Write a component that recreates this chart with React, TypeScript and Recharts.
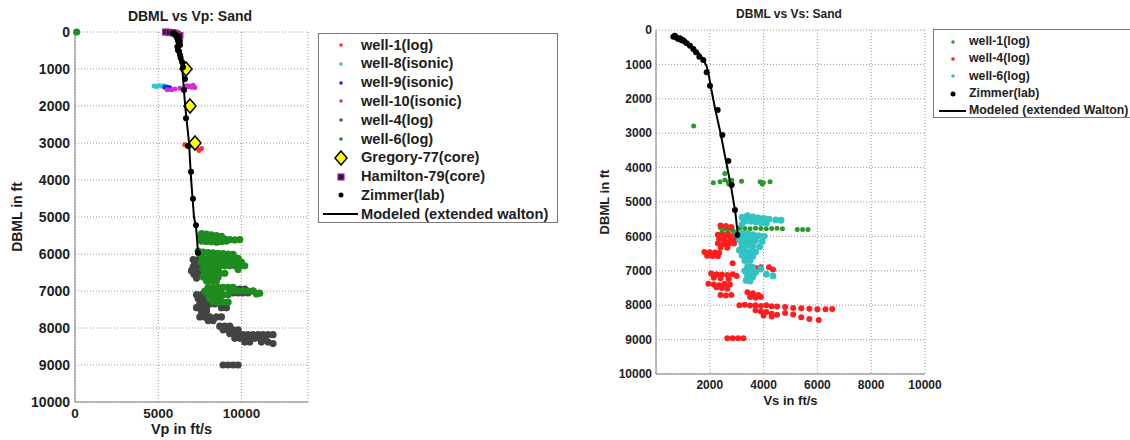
import React from "react";
import { ScatterChart, Scatter, XAxis, YAxis, CartesianGrid, Label } from "recharts";

const FONT = '"Liberation Sans", Arial, Helvetica, sans-serif';

// ---- Vp chart data: [Vp ft/s, depth ft] ----
const vpTicks = [0, 5000, 10000];
const depthTicks = [0, 1000, 2000, 3000, 4000, 5000, 6000, 7000, 8000, 9000, 10000];

const vpWell1: number[][] = [
  [6600, 3050], [6900, 3080], [7300, 3100], [7600, 3150], [7450, 3200],
];
const vpWell8: number[][] = [
  [4750, 1460], [4900, 1470], [5050, 1450], [5200, 1460], [5350, 1450], [5500, 1480],
];
const vpWell9: number[][] = [
  [5400, 1490], [5550, 1500], [5700, 1510],
];
const vpWell10: number[][] = [
  [5550, 1560], [5800, 1560], [6000, 1540], [6300, 1520], [6600, 1500], [6800, 1480],
  [7000, 1490], [7200, 1500], [6700, 1450], [6900, 1460], [7100, 1440],
];
const vpWell4: number[][] = [
  [7100, 6150], [7400, 6150], [7200, 6250], [7500, 6250], [7100, 6350], [7400, 6350],
  [7000, 6450], [7300, 6450], [7150, 6550], [7450, 6550], [7300, 6650],
  [9300, 6950], [9600, 6950], [9900, 6950], [10200, 6950], [9500, 7050], [9800, 7050],
  [10100, 7050], [10400, 7050], [10700, 7000],
  [7300, 7100], [7600, 7100], [7400, 7200], [7700, 7200], [8000, 7200],
  [7500, 7350], [7800, 7350], [8100, 7350], [8400, 7350],
  [7300, 7450], [7600, 7450], [7900, 7450], [8800, 7450], [9100, 7450],
  [7600, 7550], [7900, 7550],
  [7500, 7700], [7800, 7700], [8100, 7700], [8500, 7700], [8800, 7700], [8000, 7800], [8300, 7800],
  [8700, 7950], [9000, 7950], [9300, 7950], [8900, 8050], [9200, 8050], [9500, 8050], [9800, 8050],
  [9300, 8150], [9600, 8150],
  [9800, 8180], [10100, 8180], [10400, 8180], [10700, 8180], [11000, 8180], [11300, 8180],
  [11600, 8180], [11900, 8180],
  [9600, 8280], [9900, 8280], [10200, 8280], [10500, 8280], [10800, 8280], [11100, 8280], [11400, 8280],
  [10200, 8380], [10500, 8380], [11200, 8380], [11600, 8380], [11900, 8420],
  [8900, 9000], [9200, 9000], [9500, 9000], [9800, 9000],
];
const vpWell6: number[][] = [
  [100, 0],
  [7600, 5450], [7900, 5460], [8200, 5480], [8500, 5500], [8800, 5520],
  [7500, 5550], [7800, 5560], [8100, 5570], [8400, 5580], [8700, 5590], [9000, 5600],
  [9300, 5610], [9600, 5620], [9900, 5610],
  [7600, 5650], [7900, 5660], [8200, 5670], [8500, 5680], [8800, 5660], [9100, 5650],
  [7400, 5920], [7700, 5950], [8000, 5960], [8300, 5970], [8600, 5980], [8900, 5990],
  [9200, 6000], [9500, 6010], [7600, 6050], [8100, 6040],
  [7700, 6120], [8000, 6120], [8300, 6120], [8600, 6120], [8900, 6120], [9200, 6120], [9500, 6120], [9800, 6120],
  [7600, 6220], [7900, 6220], [8200, 6220], [8500, 6220], [8800, 6220], [9100, 6220], [9400, 6220],
  [9700, 6220], [10000, 6220],
  [7800, 6320], [8100, 6320], [8400, 6320], [8700, 6320], [9000, 6320], [9300, 6320], [9600, 6320],
  [9900, 6320], [10200, 6320],
  [7700, 6420], [8000, 6420], [8300, 6420], [8600, 6420], [9800, 6420],
  [7800, 6520], [8100, 6520], [8400, 6520], [8700, 6520], [9000, 6520],
  [7700, 6620], [8000, 6620], [8300, 6620], [8600, 6620],
  [7900, 6720], [8200, 6720], [8500, 6720],
  [8000, 6900], [8300, 6900], [8600, 6900], [8900, 6900], [9200, 6900], [9500, 6900],
  [7800, 7000], [8100, 7000], [8400, 7000], [8700, 7000], [9500, 7000], [9800, 7000],
  [10100, 7000], [10400, 7000], [10700, 7000],
  [8000, 7100], [8300, 7100], [8600, 7100], [8900, 7100], [9200, 7100], [10900, 7080], [11100, 7060],
  [8100, 7200], [8400, 7200], [8700, 7200],
  [8300, 7300], [8600, 7300], [8900, 7300], [9200, 7300],
];
const vpGregory: number[][] = [
  [6670, 1000], [6910, 2000], [7210, 3000],
];
const vpHamilton: number[][] = [
  [5450, 0], [5650, 10], [5850, 20], [6000, 30], [6150, 60], [6300, 100],
];
const vpZimmer: number[][] = [
  [5890, 30], [6000, 60], [6100, 100], [6200, 150], [6190, 220], [6300, 250], [6310, 350],
  [6150, 400], [6190, 490], [6250, 520], [6310, 620], [6350, 700], [6430, 810], [6490, 950],
  [6610, 1270], [6550, 1570], [6670, 2330], [6790, 3080], [6970, 3780], [7090, 4510],
  [7270, 5220], [7390, 5970],
];
const vpModeled: number[][] = [
  [5700, 0], [6000, 150], [6250, 450], [6450, 1000], [6620, 2000], [6850, 3000],
  [6980, 4000], [7150, 5000], [7280, 5300], [7400, 6000],
];

// ---- Vs chart data: [Vs ft/s, depth ft] ----
const vsTicks = [2000, 4000, 6000, 8000, 10000];

const vsWell1: number[][] = [
  [1400, 2790],
  [2130, 4440], [2380, 4410], [2560, 4360], [2690, 4420], [2820, 4370], [3180, 4400],
  [3870, 4410], [3990, 4440], [4240, 4410], [2560, 4170], [2700, 4480], [3950, 4480],
  [2400, 5750], [2550, 5780], [2700, 5800], [2850, 5820], [2450, 5880], [2650, 5900], [2900, 5870],
  [3100, 5760], [3300, 5770], [3500, 5780], [3700, 5760], [3900, 5770], [4100, 5780],
  [4300, 5770], [4500, 5760], [4700, 5780], [5250, 5800], [5450, 5800], [5650, 5800],
  [2500, 6000], [2700, 5980], [2900, 6010], [3200, 6000], [3400, 5990], [3600, 6010],
  [3800, 6000], [4050, 5990],
  [3150, 6170], [3350, 6190], [3500, 6200],
];
const vsWell4: number[][] = [
  [2400, 5680], [2600, 5700], [2800, 5730],
  [2300, 5950], [2500, 5960], [2700, 5950], [2900, 5980], [2350, 6080], [2550, 6100],
  [2750, 6110], [2950, 6090], [2300, 6200], [2500, 6220], [2700, 6230], [2900, 6210],
  [2400, 6320], [2650, 6330],
  [1800, 6450], [2000, 6460], [2200, 6470], [2350, 6480], [1900, 6560], [2100, 6570], [2300, 6580],
  [2850, 6780],
  [3500, 6900], [3700, 6920], [3900, 6900], [4200, 6900], [4350, 6960], [3600, 6980],
  [2050, 7080], [2250, 7100], [2450, 7110], [2650, 7120], [2850, 7100], [3000, 7150],
  [2150, 7200], [2400, 7220], [2700, 7240],
  [1950, 7380], [2150, 7400], [2350, 7420], [2550, 7380], [2750, 7400], [2450, 7500],
  [2650, 7520], [2250, 7480],
  [2400, 7700], [2600, 7720], [2800, 7700],
  [3400, 7620], [3600, 7650], [3800, 7700], [3500, 7760], [3700, 7780], [3900, 7760],
  [3100, 8000], [3300, 7990], [3500, 8010], [3700, 8000], [3900, 8020], [4100, 8000],
  [4300, 8030], [4500, 8040], [4800, 8050], [5100, 8080], [5400, 8090], [5700, 8100],
  [6000, 8120], [6300, 8120], [6550, 8110],
  [3700, 8150], [3900, 8180], [4100, 8200], [4300, 8250], [4500, 8280], [4800, 8230],
  [5100, 8270], [5400, 8350], [5700, 8400], [4000, 8300], [4300, 8330], [6050, 8430],
  [2650, 8960], [2850, 8960], [3050, 8960], [3250, 8960],
];
const vsWell6: number[][] = [
  [3200, 5450], [3400, 5400], [3600, 5430], [3800, 5460], [4000, 5480], [4200, 5500],
  [4450, 5520], [4650, 5530], [3300, 5550], [3500, 5560], [3700, 5580], [3900, 5600],
  [4100, 5620], [3200, 5650],
  [3000, 5950], [3200, 5920], [3400, 5930], [3600, 5950], [3800, 5980], [4000, 6000],
  [3100, 6100], [3300, 6080], [3500, 6100], [3700, 6120], [3950, 6150],
  [3200, 6250], [3400, 6260], [3600, 6280], [3850, 6300],
  [3100, 6400], [3300, 6420], [3500, 6440], [3700, 6450],
  [3200, 6550], [3400, 6560], [3600, 6580], [3300, 6700], [3500, 6700],
  [3400, 6880], [3600, 6900], [3900, 6950], [3300, 7000], [3500, 7020], [3700, 7050],
  [4100, 7100], [4350, 7150], [3400, 7150], [3600, 7180], [3350, 7280], [3500, 7300],
];
const vsZimmer: number[][] = [
  [645, 194], [700, 170], [768, 223], [830, 260], [892, 242], [950, 300], [991, 291],
  [1050, 330], [1140, 388], [1264, 456], [1387, 552], [1487, 649], [1610, 775], [1758, 872],
  [1884, 1230], [2007, 1619], [2293, 2326], [2466, 3052], [2689, 3808], [2813, 4506],
  [2936, 5233], [3022, 5960],
];
const vsModeled: number[][] = [
  [650, 150], [800, 200], [1000, 280], [1200, 380], [1400, 520], [1600, 680], [1750, 850],
  [1880, 1050], [1960, 1300], [2050, 1700], [2200, 2300], [2400, 3000], [2600, 3800],
  [2800, 4600], [2950, 5300], [3050, 6000],
];

const pts = (a: number[][]) => a.map(([x, y]) => ({ x, y }));

const dot = (color: string, r: number) => (p: any) =>
  <circle cx={p.cx} cy={p.cy} r={r} fill={color} />;

const diamond = (p: any) => (
  <polygon
    points={`${p.cx},${p.cy - 7} ${p.cx + 6},${p.cy} ${p.cx},${p.cy + 7} ${p.cx - 6},${p.cy}`}
    fill="#ffff00" stroke="#000" strokeWidth={1.5}
  />
);

const square = (p: any) => (
  <rect x={p.cx - 3} y={p.cy - 3} width={6} height={6} fill="#3a0a3a" stroke="#9a2a9a" strokeWidth={1.2} />
);

const noMark = () => <g />;

const tickStyle = (size: number) => ({
  fill: "#1e1e1e", fontSize: size, fontWeight: "bold" as const, fontFamily: FONT,
});
const labelStyle = (size: number) => ({
  fill: "#1e1e1e", fontSize: size, fontWeight: "bold", fontFamily: FONT, textAnchor: "middle" as const,
});

type Entry = { label: string; kind: "dot" | "diamond" | "square" | "zdot" | "line"; color: string };

const vpLegend: Entry[] = [
  { label: "well-1(log)", kind: "dot", color: "#ff3030" },
  { label: "well-8(isonic)", kind: "dot", color: "#30c8c8" },
  { label: "well-9(isonic)", kind: "dot", color: "#2020e8" },
  { label: "well-10(isonic)", kind: "dot", color: "#d030d0" },
  { label: "well-4(log)", kind: "dot", color: "#555555" },
  { label: "well-6(log)", kind: "dot", color: "#1e8c1e" },
  { label: "Gregory-77(core)", kind: "diamond", color: "#ffff00" },
  { label: "Hamilton-79(core)", kind: "square", color: "#3a0a3a" },
  { label: "Zimmer(lab)", kind: "zdot", color: "#000" },
  { label: "Modeled (extended walton)", kind: "line", color: "#000" },
];

const vsLegend: Entry[] = [
  { label: "well-1(log)", kind: "dot", color: "#2a9a2a" },
  { label: "well-4(log)", kind: "dot", color: "#ff2020" },
  { label: "well-6(log)", kind: "dot", color: "#30c4c4" },
  { label: "Zimmer(lab)", kind: "zdot", color: "#000" },
  { label: "Modeled (extended Walton)", kind: "line", color: "#000" },
];

function LegendMark({ e, cx, x0, x1 }: { e: Entry; cx: number; x0: number; x1: number }) {
  if (e.kind === "line") return <line x1={x0} x2={x1} y1={8} y2={8} stroke="#000" strokeWidth={2} />;
  if (e.kind === "diamond")
    return <polygon points={`${cx},1 ${cx + 6},8 ${cx},15 ${cx - 6},8`} fill="#ffff00" stroke="#000" strokeWidth={1.5} />;
  if (e.kind === "square")
    return <rect x={cx - 3} y={5} width={6} height={6} fill="#3a0a3a" stroke="#9a2a9a" strokeWidth={1.2} />;
  return <circle cx={cx} cy={8} r={e.kind === "zdot" ? 2.5 : 1.8} fill={e.color} />;
}

function BoxLegend({ entries, left, top, width, height, rowH, padTop, cx, x0, x1, textX, fontSize }: any) {
  return (
    <div style={{
      position: "absolute", left, top, width, height, border: "1px solid #7a7a7a",
      background: "#fff", boxSizing: "border-box", fontFamily: FONT, fontWeight: "bold",
      fontSize, color: "#1e1e1e", paddingTop: padTop,
    }}>
      {entries.map((e: Entry) => (
        <div key={e.label} style={{ position: "relative", height: rowH, whiteSpace: "nowrap" }}>
          <svg width={textX} height={16} style={{ position: "absolute", left: 0, top: (rowH - 16) / 2 }}>
            <LegendMark e={e} cx={cx} x0={x0} x1={x1} />
          </svg>
          <span style={{ position: "absolute", left: textX, top: 0, lineHeight: `${rowH}px` }}>{e.label}</span>
        </div>
      ))}
    </div>
  );
}

export default function App() {
  return (
    <div style={{ position: "absolute", left: 0, top: 0, width: 1130, height: 440, background: "#fff", overflow: "hidden" }}>
      <div style={{ position: "absolute", left: 90, top: 7, width: 200, textAlign: "center", fontFamily: FONT, fontWeight: "bold", fontSize: 14, lineHeight: "18px", color: "#1e1e1e" }}>
        DBML vs Vp: Sand
      </div>
      <div style={{ position: "absolute", left: 0, top: 0 }}>
        <ScatterChart width={320} height={440} margin={{ top: 32, right: 12, bottom: 0, left: 15 }}>
          <CartesianGrid stroke="#9a9a9a" strokeDasharray="1 2" />
          <XAxis type="number" dataKey="x" domain={[0, 14000]} ticks={vpTicks} height={38}
            axisLine={{ stroke: "#808080" }} tickLine={false} tickSize={0} tickMargin={6} tick={tickStyle(13.5)}>
            <Label value="Vp in ft/s" position="insideBottom" offset={6} dx={-10} style={labelStyle(14.5)} />
          </XAxis>
          <YAxis type="number" dataKey="y" domain={[0, 10000]} reversed ticks={depthTicks} width={60}
            axisLine={{ stroke: "#808080" }} tickLine={false} tickSize={0} tickMargin={5} tick={tickStyle(14)}>
            <Label value="DBML in ft" angle={-90} position="insideLeft" offset={2} style={labelStyle(14)} />
          </YAxis>
          <Scatter data={pts(vpWell1)} shape={dot("#ff3030", 2.5)} isAnimationActive={false} />
          <Scatter data={pts(vpWell8)} shape={dot("#30c8c8", 2.5)} isAnimationActive={false} />
          <Scatter data={pts(vpWell9)} shape={dot("#2020e8", 2.5)} isAnimationActive={false} />
          <Scatter data={pts(vpWell10)} shape={dot("#d030d0", 2.5)} isAnimationActive={false} />
          <Scatter data={pts(vpWell4)} shape={dot("#444444", 3.6)} isAnimationActive={false} />
          <Scatter data={pts(vpWell6)} shape={dot("#1e8c1e", 3.6)} isAnimationActive={false} />
          <Scatter data={pts(vpGregory)} shape={diamond} isAnimationActive={false} />
          <Scatter data={pts(vpHamilton)} shape={square} isAnimationActive={false} />
          <Scatter data={pts(vpZimmer)} shape={dot("#000", 3)} isAnimationActive={false} />
          <Scatter data={pts(vpModeled)} shape={noMark} line={{ stroke: "#000", strokeWidth: 2 }} isAnimationActive={false} />
        </ScatterChart>
      </div>
      <BoxLegend entries={vpLegend} left={318} top={33} width={240} height={190} rowH={18.8} padTop={1.6}
        cx={22} x0={4} x1={39} textX={42} fontSize={14.6} />

      <div style={{ position: "absolute", left: 689, top: 6, width: 200, textAlign: "center", fontFamily: FONT, fontWeight: "bold", fontSize: 12, lineHeight: "16px", color: "#1e1e1e" }}>
        DBML vs Vs: Sand
      </div>
      <div style={{ position: "absolute", left: 580, top: 0 }}>
        <ScatterChart width={380} height={440} margin={{ top: 30, right: 35, bottom: 26, left: 16 }}>
          <CartesianGrid stroke="#9a9a9a" strokeDasharray="1 2" />
          <XAxis type="number" dataKey="x" domain={[0, 10000]} ticks={vsTicks} height={40}
            axisLine={{ stroke: "#808080" }} tickLine={false} tickSize={0} tickMargin={6} tick={tickStyle(12)}>
            <Label value="Vs in ft/s" position="insideBottom" offset={9.5} style={labelStyle(13)} />
          </XAxis>
          <YAxis type="number" dataKey="y" domain={[0, 10000]} reversed ticks={depthTicks} width={60}
            axisLine={{ stroke: "#808080" }} tickLine={false} tickSize={0} tickMargin={4} tick={tickStyle(12)}>
            <Label value="DBML in ft" angle={-90} position="insideLeft" offset={8} style={labelStyle(13)} />
          </YAxis>
          <Scatter data={pts(vsWell1)} shape={dot("#2a9a2a", 2.5)} isAnimationActive={false} />
          <Scatter data={pts(vsWell4)} shape={dot("#ff1e1e", 3)} isAnimationActive={false} />
          <Scatter data={pts(vsWell6)} shape={dot("#30c4c4", 3.4)} isAnimationActive={false} />
          <Scatter data={pts(vsZimmer)} shape={dot("#000", 3)} isAnimationActive={false} />
          <Scatter data={pts(vsModeled)} shape={noMark} line={{ stroke: "#000", strokeWidth: 2 }} isAnimationActive={false} />
        </ScatterChart>
      </div>
      <BoxLegend entries={vsLegend} left={933} top={29} width={230} height={89} rowH={17.3} padTop={3}
        cx={19} x0={5} x1={32} textX={35} fontSize={12.3} />
    </div>
  );
}
